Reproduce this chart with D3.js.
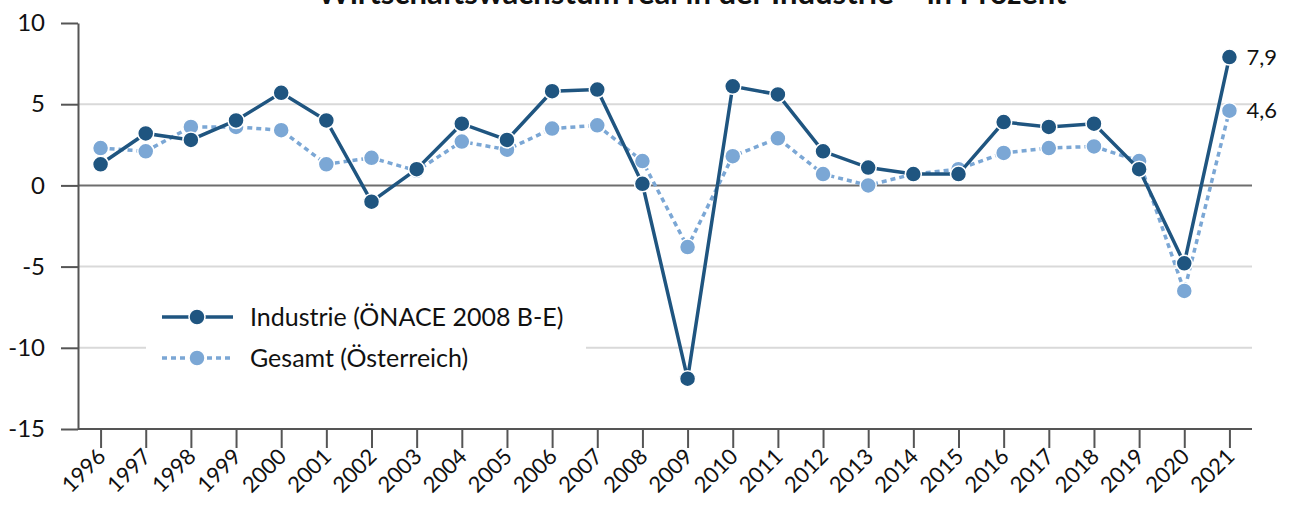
<!DOCTYPE html>
<html>
<head>
<meta charset="utf-8">
<script src="https://cdn.jsdelivr.net/npm/d3@7"></script>
<style>
  body { margin: 0; background: #fff; }
  svg text { font-family: Lato, "Open Sans", sans-serif; fill: #111; }
</style>
</head>
<body>
<div id="chart"></div>
<script>
// Wirtschaftswachstum real - Industrie vs. Gesamt

var years = ["1996","1997","1998","1999","2000","2001","2002","2003","2004","2005","2006","2007","2008",
             "2009","2010","2011","2012","2013","2014","2015","2016","2017","2018","2019","2020","2021"];

var industrie = [1.3, 3.2, 2.8, 4.0, 5.7, 4.0, -1.0, 1.0, 3.8, 2.8, 5.8, 5.9, 0.1,
                 -11.9, 6.1, 5.6, 2.1, 1.1, 0.7, 0.7, 3.9, 3.6, 3.8, 1.0, -4.8, 7.9];

var gesamt = [2.3, 2.1, 3.6, 3.6, 3.4, 1.3, 1.7, 0.9, 2.7, 2.2, 3.5, 3.7, 1.5,
              -3.8, 1.8, 2.9, 0.7, 0.0, 0.7, 1.0, 2.0, 2.3, 2.4, 1.5, -6.5, 4.6];

var yTicks = [-15, -10, -5, 0, 5, 10];
var seriesNames = ["Industrie (ÖNACE 2008 B-E)", "Gesamt (Österreich)"];
var title = "Wirtschaftswachstum real in der Industrie – in Prozent";

var width = 1296, height = 509;
var plotLeft = 78, plotRight = 1252, plotTop = 23, plotBottom = 429;
var darkBlue = "#1f5580", lightBlue = "#7ba7d5";

var svg = d3.select("#chart").append("svg")
    .attr("width", width)
    .attr("height", height);

// scales
var x = d3.scalePoint().domain(years).range([plotLeft, plotRight]).padding(0.5);
var y = d3.scaleLinear().domain([-15, 10]).range([plotBottom, plotTop]);

// title (only the lower part shows in the frame)
svg.append("text")
    .attr("x", 692).attr("y", 4)
    .attr("text-anchor", "middle")
    .style("font-size", "31px")
    .style("font-weight", "bold")
    .text(title);

// gridlines
svg.append("g").selectAll("line")
    .data(yTicks.filter(function(d){ return d != 0 && d != -15 && d != 10; }))
    .enter().append("line")
    .attr("x1", plotLeft).attr("x2", plotRight)
    .attr("y1", function(d){ return y(d); })
    .attr("y2", function(d){ return y(d); })
    .attr("stroke", "#d9d9d9")
    .attr("stroke-width", 2);

// zero line
svg.append("line")
    .attr("x1", plotLeft).attr("x2", plotRight)
    .attr("y1", y(0)).attr("y2", y(0))
    .attr("stroke", "#6e6e6e")
    .attr("stroke-width", 2);

// y axis
var yAxis = svg.append("g")
    .attr("transform", "translate(" + plotLeft + ",0)")
    .call(d3.axisLeft(y).tickValues(yTicks).tickSize(17).tickPadding(16).tickSizeOuter(0)
        .tickFormat(function(d){ return String(d); }));
yAxis.select(".domain").attr("stroke", "#555").attr("stroke-width", 2);
yAxis.selectAll(".tick line").attr("stroke", "#555").attr("stroke-width", 2);
yAxis.selectAll("text").style("font-size", "24px").attr("fill", "#111")
    .style("font-family", "Lato, sans-serif");

// x axis
var xAxis = svg.append("g")
    .attr("transform", "translate(0," + plotBottom + ")")
    .call(d3.axisBottom(x).tickSize(19).tickSizeOuter(0));
xAxis.select(".domain").attr("d", "M" + plotLeft + ",0H" + plotRight)
    .attr("stroke", "#555").attr("stroke-width", 2);
xAxis.selectAll(".tick line").attr("stroke", "#555").attr("stroke-width", 2);
xAxis.selectAll("text")
    .style("font-size", "22px")
    .style("font-family", "Lato, sans-serif")
    .attr("fill", "#111")
    .attr("text-anchor", "end")
    .attr("dy", null)
    .attr("y", 0)
    .attr("transform", "translate(6,29) rotate(-45)");

// lines
var line = d3.line()
    .x(function(d, i){ return x(years[i]); })
    .y(function(d){ return y(d); });

svg.append("path")
    .datum(gesamt)
    .attr("d", line)
    .attr("fill", "none")
    .attr("stroke", lightBlue)
    .attr("stroke-width", 3.5)
    .attr("stroke-dasharray", "5,4");

svg.append("g").selectAll("circle")
    .data(gesamt).enter().append("circle")
    .attr("cx", function(d, i){ return x(years[i]); })
    .attr("cy", function(d){ return y(d); })
    .attr("r", 8)
    .attr("fill", lightBlue)
    .attr("stroke", "#fff")
    .attr("stroke-width", 1.5);

svg.append("path")
    .datum(industrie)
    .attr("d", line)
    .attr("fill", "none")
    .attr("stroke", darkBlue)
    .attr("stroke-width", 3.5);

svg.append("g").selectAll("circle")
    .data(industrie).enter().append("circle")
    .attr("cx", function(d, i){ return x(years[i]); })
    .attr("cy", function(d){ return y(d); })
    .attr("r", 8)
    .attr("fill", darkBlue)
    .attr("stroke", "#fff")
    .attr("stroke-width", 1.5);

// end labels
var last = years.length - 1;
[industrie, gesamt].forEach(function(s){
    svg.append("text")
        .attr("x", x(years[last]) + 17)
        .attr("y", y(s[last]))
        .attr("dy", "0.35em")
        .style("font-size", "22px")
        .text(d3.format(".1f")(s[last]).replace(".", ","));
});

// legend
var legend = svg.append("g");
legend.append("rect")
    .attr("x", 146).attr("y", 292)
    .attr("width", 440).attr("height", 86)
    .attr("fill", "#fff");

var legY = [317, 358];
var legColors = [darkBlue, lightBlue];
var legDash = [null, "5,4"];
seriesNames.forEach(function(name, i){
    legend.append("line")
        .attr("x1", 162).attr("x2", 233)
        .attr("y1", legY[i]).attr("y2", legY[i])
        .attr("stroke", legColors[i])
        .attr("stroke-width", 3.5)
        .attr("stroke-dasharray", legDash[i]);
    legend.append("circle")
        .attr("cx", 197).attr("cy", legY[i]).attr("r", 8)
        .attr("fill", legColors[i])
        .attr("stroke", "#fff").attr("stroke-width", 1.5);
    legend.append("text")
        .attr("x", 250).attr("y", legY[i])
        .attr("dy", "0.35em")
        .style("font-size", "25px")
        .text(name);
});
</script>
</body>
</html>
